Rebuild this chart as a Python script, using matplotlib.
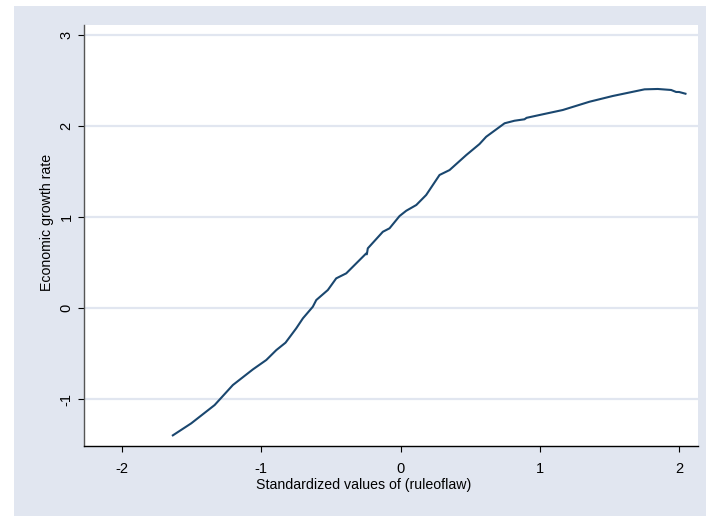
import numpy as np
import matplotlib.pyplot as plt
from matplotlib.patches import Rectangle

plt.rcParams['font.family'] = ['Liberation Sans', 'DejaVu Sans']

# lowess-like smoothed curve
rule_of_law = [-1.635, -1.503, -1.335, -1.204, -1.060, -0.964, -0.892, -0.826,
               -0.749, -0.701, -0.630, -0.605, -0.522, -0.462, -0.390, -0.246,
               -0.242, -0.235, -0.127, -0.079, -0.007, 0.041, 0.113, 0.184,
               0.280, 0.352, 0.472, 0.567, 0.615, 0.747, 0.818, 0.890, 0.905,
               0.998, 1.165, 1.357, 1.524, 1.752, 1.847, 1.943, 1.979, 2.000,
               2.046]
growth = [-1.399, -1.267, -1.066, -0.846, -0.674, -0.571, -0.462, -0.381,
          -0.223, -0.113, 0.014, 0.088, 0.198, 0.326, 0.381, 0.601,
          0.590, 0.656, 0.838, 0.876, 1.011, 1.069, 1.132, 1.242,
          1.462, 1.516, 1.681, 1.802, 1.882, 2.030, 2.058, 2.074, 2.090,
          2.121, 2.176, 2.267, 2.330, 2.403, 2.407, 2.396, 2.374, 2.374,
          2.355]
xticks = [-2, -1, 0, 1, 2]
yticks = [-1, 0, 1, 2, 3]

bg = '#E1E6F0'
fig = plt.figure(figsize=(7.06, 5.2), dpi=100, facecolor='white')
fig.patches.append(Rectangle((14 / 706, 4 / 520), 692 / 706, 510 / 520,
                             transform=fig.transFigure, facecolor=bg,
                             edgecolor='none', zorder=-10))

ax = fig.add_axes([84 / 706, 1 - 446 / 520, 614 / 706, 421 / 520])
ax.set_facecolor('white')
ax.plot(rule_of_law, growth, color='#1A476F', lw=1.5, zorder=3,
        solid_joinstyle='round')

ax.set_xlim(-2.273, 2.136)
ax.set_ylim(-1.516, 3.11)
ax.set_xticks(xticks)
ax.set_yticks(yticks)
ax.set_xticklabels([str(t) for t in xticks])
ax.set_yticklabels([str(t) for t in yticks], rotation=90, va='center')
ax.tick_params(axis='both', direction='out', length=4.5, width=0.8,
               labelsize=10.5, colors='black')
ax.tick_params(axis='x', pad=7)
ax.tick_params(axis='y', pad=3)
ax.yaxis.grid(True, color=bg, lw=1.6)
ax.set_axisbelow(True)

for s in ['top', 'right']:
    ax.spines[s].set_visible(False)
ax.spines['left'].set_color('#555555')
ax.spines['bottom'].set_color('black')
ax.spines['left'].set_linewidth(1.0)
ax.spines['bottom'].set_linewidth(1.0)

ax.set_xlabel('Standardized values of (ruleoflaw)', fontsize=10.2)
ax.set_ylabel('Economic growth rate', fontsize=10.2)
ax.xaxis.set_label_coords(0.456, -0.093)
ax.yaxis.set_label_coords(-0.06, 0.532)
ax.xaxis.label.set_va('center')
ax.yaxis.label.set_va('center')

fig.savefig('out.png', dpi=100, facecolor='white')
